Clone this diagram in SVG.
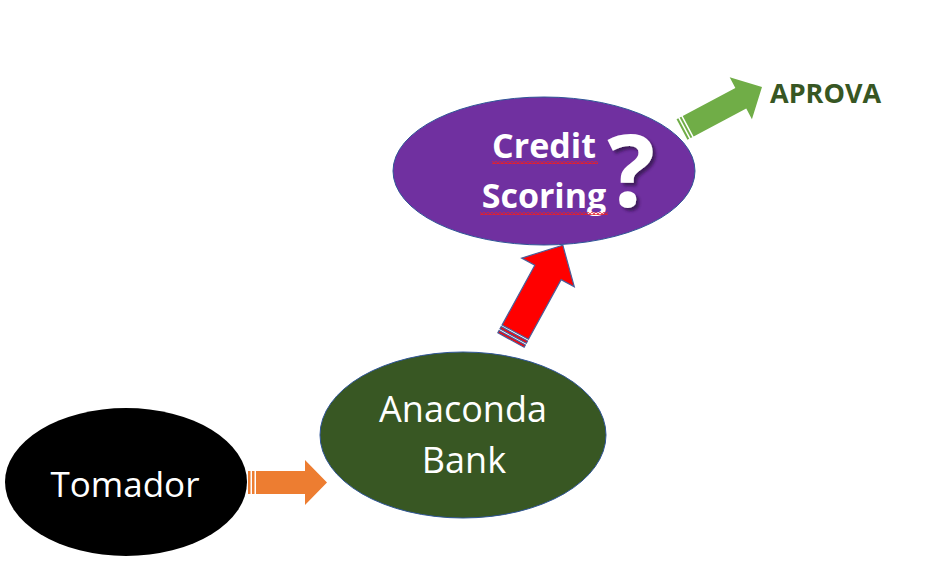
<svg xmlns="http://www.w3.org/2000/svg" width="940" height="568" viewBox="0 0 940 568">
<defs>
<style>
.lbl{font-family:"Open Sans","Noto Sans","Liberation Sans",sans-serif;fill:#fff;text-anchor:middle}
.b{font-weight:bold}
</style>
<pattern id="wave" width="4" height="3" patternUnits="userSpaceOnUse">
<polyline points="0,2.5 2,0.5 4,2.5" fill="none" stroke="#e8202a" stroke-width="1.1"/>
</pattern>
<filter id="shadow" x="-30%" y="-30%" width="160%" height="160%">
<feDropShadow dx="3" dy="3" stdDeviation="1.5" flood-color="#2a0f40" flood-opacity="0.7"/>
</filter>
</defs>
<rect width="940" height="568" fill="#fff"/>
<g id="connectors">
<g id="arrow-orange" transform="translate(248,482.5)" fill="#ed7d31">
<rect x="0" y="-11.5" width="2.5" height="23"/>
<rect x="4" y="-11.5" width="2.5" height="23"/>
<polygon points="8,-11.5 57,-11.5 57,-22.5 79,0 57,22.5 57,11.5 8,11.5"/>
</g>
<g id="arrow-red" transform="translate(511,340) rotate(-61.3)" fill="#ff0000" stroke="#4a5e9a" stroke-width="1.2">
<rect x="0" y="-15" width="2.5" height="30"/>
<rect x="4.5" y="-15" width="2.5" height="30"/>
<polygon points="9,-15 77,-15 77,-30 108,0 77,30 77,15 9,15"/>
</g>
<g id="arrow-green" transform="translate(682,129.5) rotate(-28)" fill="#70ad47">
<rect x="0" y="-11.6" width="2" height="23.2"/>
<rect x="3.5" y="-11.6" width="2" height="23.2"/>
<polygon points="7,-11.6 66.6,-11.6 66.6,-23.7 90.6,0 66.6,23.7 66.6,11.6 7,11.6"/>
</g>
</g>
<g id="node-tomador">
<ellipse cx="126" cy="482" rx="121" ry="74" fill="#000"/>
<text class="lbl" x="125" y="497" font-size="35">Tomador</text>
</g>
<g id="node-anaconda">
<ellipse cx="463" cy="435" rx="143" ry="83" fill="#385723" stroke="#2f5597" stroke-width="1"/>
<text class="lbl" x="463" y="422" font-size="36">Anaconda</text>
<text class="lbl" x="464" y="473" font-size="36">Bank</text>
</g>
<g id="node-credit">
<ellipse cx="544" cy="171" rx="151" ry="74" fill="#7030a0" stroke="#2f5597" stroke-width="1"/>
<text class="lbl b" x="544" y="158" font-size="34">Credit</text>
<text class="lbl b" x="544" y="208" font-size="34">Scoring</text>
<rect x="492" y="161" width="106" height="3" fill="url(#wave)"/>
<rect x="480" y="212" width="128" height="3" fill="url(#wave)"/>
<text class="lbl b" x="631" y="207" font-size="100" filter="url(#shadow)">?</text>
</g>
<g id="node-aprova">
<text x="770" y="103" font-size="27" font-weight="bold" fill="#375623" font-family="'Open Sans','Noto Sans','Liberation Sans',sans-serif">APROVA</text>
</g>
</svg>
